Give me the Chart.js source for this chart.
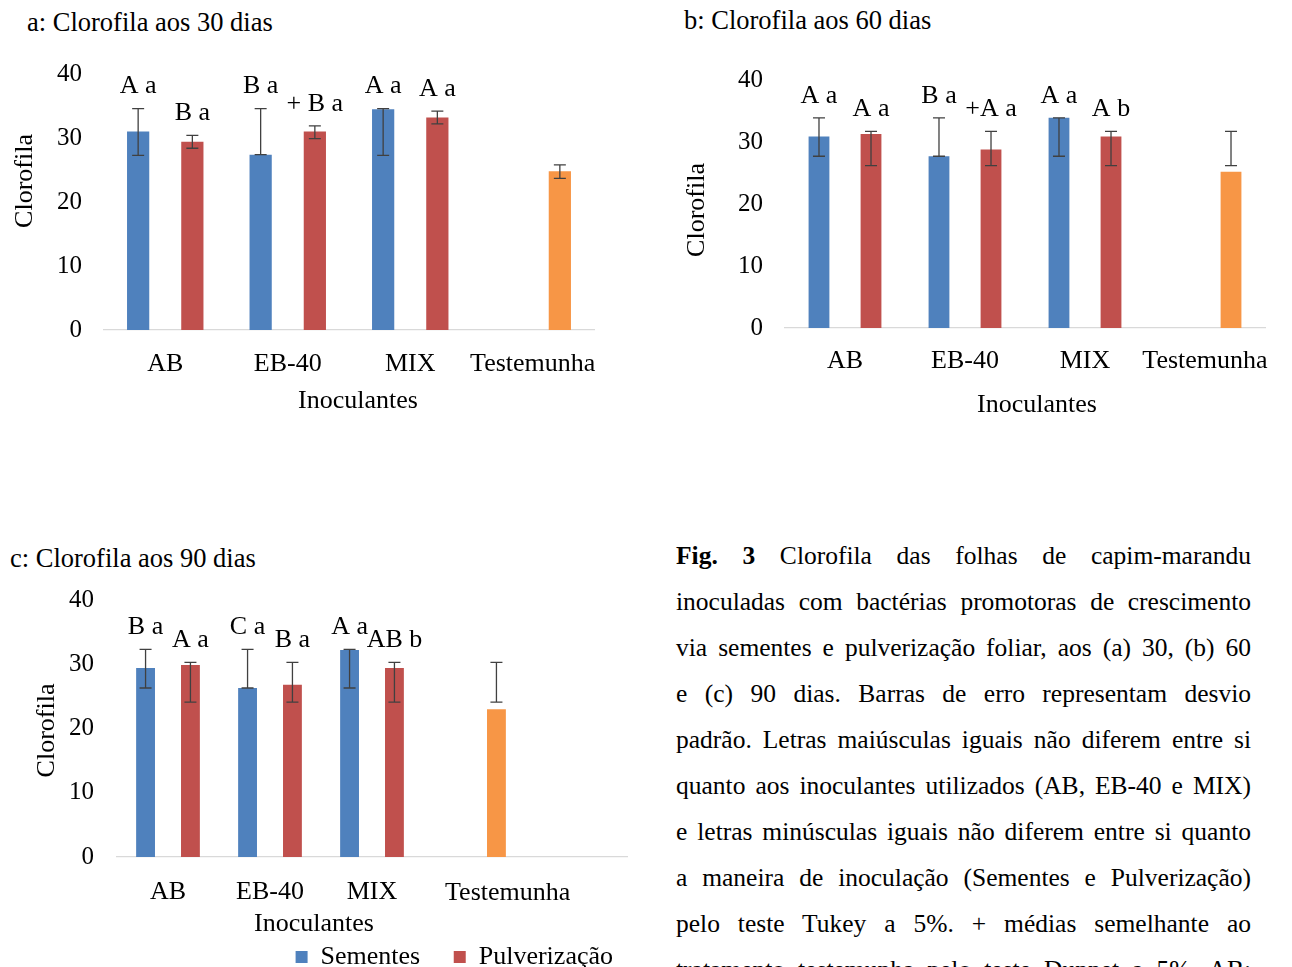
<!DOCTYPE html>
<html>
<head>
<meta charset="utf-8">
<script src="https://cdn.jsdelivr.net/npm/chart.js@4.4.1/dist/chart.umd.min.js"></script>
<style>
  html, body { margin: 0; padding: 0; background: #fff; overflow: hidden; }
  body { width: 1292px; height: 967px; position: relative; font-family: "Liberation Serif", "Times New Roman", serif; color: #000; }
  .box { position: absolute; }
  .ptitle { position: absolute; font-size: 26.5px; line-height: 30px; white-space: nowrap; }
  #caption { position: absolute; left: 676px; top: 533px; width: 575px; font-size: 25.5px; }
  #caption div { height: 46px; line-height: 46px; text-align: justify; text-align-last: justify; }
</style>
</head>
<body>
<div class="ptitle" style="left:27px; top:7px;">a: Clorofila aos 30 dias</div>
<div class="ptitle" style="left:684px; top:5px;">b: Clorofila aos 60 dias</div>
<div class="ptitle" style="left:10px; top:543px;">c: Clorofila aos 90 dias</div>

<div class="box" style="left:0; top:0;"><canvas id="chart30" width="620" height="420"></canvas></div>
<div class="box" style="left:660px; top:0;"><canvas id="chart60" width="632" height="425"></canvas></div>
<div class="box" style="left:0; top:530px;"><canvas id="chart90" width="660" height="450"></canvas></div>

<div id="caption">
  <div><b>Fig. 3</b> Clorofila das folhas de capim-marandu</div>
  <div>inoculadas com bactérias promotoras de crescimento</div>
  <div>via sementes e pulverização foliar, aos (a) 30, (b) 60</div>
  <div>e (c) 90 dias. Barras de erro representam desvio</div>
  <div>padrão. Letras maiúsculas iguais não diferem entre si</div>
  <div>quanto aos inoculantes utilizados (AB, EB-40 e MIX)</div>
  <div>e letras minúsculas iguais não diferem entre si quanto</div>
  <div>a maneira de inoculação (Sementes e Pulverização)</div>
  <div>pelo teste Tukey a 5%. + médias semelhante ao</div>
  <div>tratamento testemunha pelo teste Dunnet a 5%. AB:</div>
</div>

<script>
// categorias e ticks
const categories = ["AB", "EB-40", "MIX", "Testemunha"];
const categories90 = ["AB", "EB-40", "MIX", "Testemunha", ""];
const yTicks = [0, 10, 20, 30, 40];

// a: 30 dias
const sem30 = [31.0, 27.4, 34.5, null];
const sem30Hi = [34.6, 34.6, 34.6, null];
const sem30Lo = [27.3, 27.4, 27.3, null];
const pul30 = [29.4, 31.0, 33.2, 24.8];
const pul30Hi = [30.4, 31.9, 34.2, 25.8];
const pul30Lo = [28.4, 29.9, 32.2, 23.7];
const sem30Letters = ["A a", "B a", "A a", ""];
const pul30Letters = ["B a", "+ B a", "A a", ""];

// b: 60 dias
const sem60 = [30.9, 27.7, 33.9, null];
const sem60Hi = [33.9, 33.9, 33.9, null];
const sem60Lo = [27.7, 27.7, 27.7, null];
const pul60 = [31.3, 28.8, 30.9, 25.2];
const pul60Hi = [31.7, 31.7, 31.7, 31.7];
const pul60Lo = [26.2, 26.2, 26.2, 26.2];
const sem60Letters = ["A a", "B a", "A a", ""];
const pul60Letters = ["A a", "+A a", "A b", ""];

// c: 90 dias
const sem90 = [29.4, 26.3, 32.2, null, null];
const sem90Hi = [32.3, 32.3, 32.3, null, null];
const sem90Lo = [26.3, 26.3, 26.3, null, null];
const pul90 = [29.9, 26.8, 29.4, 23.0, null];
const pul90Hi = [30.3, 30.3, 30.3, 30.3, null];
const pul90Lo = [24.1, 24.1, 24.1, 24.1, null];
const sem90Letters = ["B a", "C a", "A a", "", ""];
const pul90Letters = ["A a", "B a", "AB b", "", ""];

const BLUE = "#4F81BD";
const RED = "#C0504D";
const ORANGE = "#F79646";
const TEST_INDEX = 3; // testemunha fica na serie de pulverizacao
const SERIF = "'Liberation Serif', 'Times New Roman', serif";

Chart.defaults.font.family = SERIF;
Chart.defaults.color = "#000";

// barras de erro + letras de Tukey
const errorBarsPlugin = {
  id: "errorBars",
  afterDatasetsDraw(chart) {
    const { ctx } = chart;
    const y = chart.scales.y;
    chart.data.datasets.forEach((ds, di) => {
      const meta = chart.getDatasetMeta(di);
      meta.data.forEach((bar, i) => {
        if (ds.data[i] == null) return;
        const yHi = y.getPixelForValue(ds.errHigh[i]);
        const yLo = y.getPixelForValue(ds.errLow[i]);
        ctx.save();
        ctx.strokeStyle = "#404040";
        ctx.lineWidth = 1.3;
        ctx.beginPath();
        ctx.moveTo(bar.x, yHi);
        ctx.lineTo(bar.x, yLo);
        ctx.moveTo(bar.x - 6, yHi);
        ctx.lineTo(bar.x + 6, yHi);
        ctx.moveTo(bar.x - 6, yLo);
        ctx.lineTo(bar.x + 6, yLo);
        ctx.stroke();
        const txt = ds.letters[i];
        if (txt) {
          ctx.fillStyle = "#000";
          ctx.font = "26px " + SERIF;
          ctx.textAlign = "center";
          ctx.textBaseline = "middle";
          ctx.fillText(txt, bar.x, Math.min(yHi, bar.y) - 22);
        }
        ctx.restore();
      });
    });
  }
};

// titulos dos eixos (posicao igual ao original do Excel)
const axisTitlesPlugin = {
  id: "axisTitles",
  afterDraw(chart, args, o) {
    const { ctx, chartArea: ca } = chart;
    ctx.save();
    ctx.fillStyle = "#000";
    ctx.font = "26px " + SERIF;
    ctx.textAlign = "center";
    ctx.textBaseline = "middle";
    ctx.fillText("Inoculantes", (ca.left + ca.right) / 2 + o.xDx, ca.bottom + o.xDy);
    ctx.translate(o.yX, (ca.top + ca.bottom) / 2 + o.yDy);
    ctx.rotate(-Math.PI / 2);
    ctx.fillText("Clorofila", 0, 0);
    ctx.restore();
  }
};

// rotulo deslocado (Testemunha no grafico c)
const shiftedLabelPlugin = {
  id: "shiftedLabel",
  afterDraw(chart, args, opts) {
    if (opts.index == null) return;
    const x = chart.scales.x;
    const step = x.width / chart.data.labels.length;
    const ctx = chart.ctx;
    ctx.save();
    ctx.fillStyle = "#000";
    ctx.font = "26px " + SERIF;
    ctx.textAlign = "center";
    ctx.textBaseline = "middle";
    ctx.fillText(chart.data.labels[opts.index], x.getPixelForValue(opts.index) + step * opts.shift, chart.chartArea.bottom + opts.dy);
    ctx.restore();
  }
};

function buildChart(id, o) {
  const ctx = document.getElementById(id).getContext("2d");
  return new Chart(ctx, {
    type: "bar",
    data: {
      labels: o.labels,
      datasets: [
        {
          label: "Sementes",
          data: o.sem, errHigh: o.semHi, errLow: o.semLo, letters: o.semLetters,
          backgroundColor: BLUE,
          barPercentage: o.barPct, categoryPercentage: o.catPct
        },
        {
          label: "Pulverização",
          data: o.pul, errHigh: o.pulHi, errLow: o.pulLo, letters: o.pulLetters,
          backgroundColor: (c) => (c.dataIndex === TEST_INDEX ? ORANGE : RED),
          barPercentage: o.barPct, categoryPercentage: o.catPct
        }
      ]
    },
    options: {
      responsive: false,
      animation: false,
      layout: { padding: o.padding },
      plugins: {
        legend: o.legend || { display: false },
        tooltip: { enabled: false },
        axisTitles: o.titles,
        shiftedLabel: o.shifted || {}
      },
      scales: {
        x: {
          grid: { display: false, drawTicks: false },
          border: { display: true, color: "#D9D9D9", width: 1.3 },
          ticks: {
            padding: o.xTickPad,
            autoSkip: false,
            maxRotation: 0,
            font: { size: 26 },
            callback: (v, i) => (o.hideTick === i ? "" : o.labels[i])
          },
          afterFit: (s) => { s.height = o.xHeight; }
        },
        y: {
          min: 0,
          max: 40,
          grid: { display: false, drawTicks: false },
          border: { display: false },
          ticks: { padding: o.yTickPad, font: { size: 25 } },
          afterBuildTicks: (s) => { s.ticks = yTicks.map((v) => ({ value: v })); },
          afterFit: (s) => { s.width = o.yWidth; }
        }
      }
    },
    plugins: [errorBarsPlugin, axisTitlesPlugin, shiftedLabelPlugin]
  });
}

buildChart("chart30", {
  labels: categories,
  sem: sem30, semHi: sem30Hi, semLo: sem30Lo, semLetters: sem30Letters,
  pul: pul30, pulHi: pul30Hi, pulLo: pul30Lo, pulLetters: pul30Letters,
  barPct: 0.41, catPct: 0.885,
  padding: { top: 74, right: 26, bottom: 0, left: 0 },
  xHeight: 90, xTickPad: 19,
  yWidth: 104, yTickPad: 22,
  titles: { xDx: 9, xDy: 71, yX: 25, yDy: -21 }
});

buildChart("chart60", {
  labels: categories,
  sem: sem60, semHi: sem60Hi, semLo: sem60Lo, semLetters: sem60Letters,
  pul: pul60, pulHi: pul60Hi, pulLo: pul60Lo, pulLetters: pul60Letters,
  barPct: 0.4, catPct: 0.867,
  padding: { top: 80, right: 27, bottom: 0, left: 0 },
  xHeight: 97, xTickPad: 18,
  yWidth: 125, yTickPad: 22,
  titles: { xDx: 12, xDy: 77, yX: 37, yDy: 6 }
});

buildChart("chart90", {
  labels: categories90,
  sem: sem90, semHi: sem90Hi, semLo: sem90Lo, semLetters: sem90Letters,
  pul: pul90, pulHi: pul90Hi, pulLo: pul90Lo, pulLetters: pul90Letters,
  barPct: 0.42, catPct: 0.88,
  padding: { top: 70, right: 33, bottom: 0, left: 0 },
  xHeight: 73, xTickPad: 20,
  yWidth: 117, yTickPad: 23,
  titles: { xDx: -58, xDy: 67, yX: 47, yDy: 2 },
  hideTick: 3,
  shifted: { index: 3, shift: 0.33, dy: 36 },
  legend: {
    display: true,
    position: "bottom",
    align: "end",
    labels: {
      boxWidth: 12, boxHeight: 12, padding: 14, font: { size: 26 },
      // espaco extra entre os dois itens, como no original
      generateLabels: (chart) =>
        Chart.defaults.plugins.legend.labels.generateLabels(chart).map((l, i) =>
          i === 0 ? Object.assign(l, { text: l.text + "\u00a0\u00a0\u00a0" }) : l)
    }
  }
});
</script>
</body>
</html>
